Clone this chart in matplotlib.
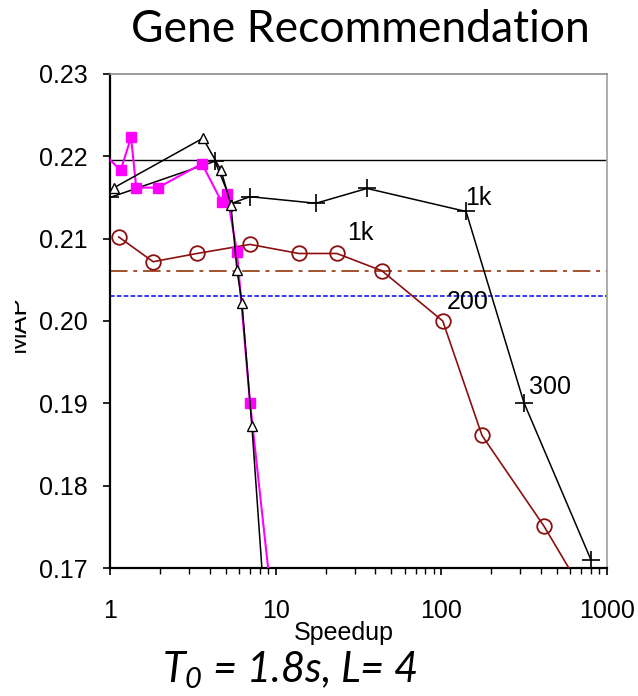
import matplotlib
matplotlib.use('Agg')
import matplotlib.pyplot as plt
from matplotlib.ticker import FixedLocator, FormatStrFormatter, LogLocator, NullFormatter
from matplotlib.patches import Rectangle

plt.rcParams['font.family'] = ['Liberation Sans', 'DejaVu Sans']
plt.rcParams['mathtext.fontset'] = 'custom'
plt.rcParams['mathtext.it'] = 'Lato:italic'
plt.rcParams['mathtext.rm'] = 'Lato:italic'

# --- data ---
plus_x = [1.0, 4.3, 5.45, 7.0, 17.5, 35.6, 141, 315, 800]
plus_y = [0.2150, 0.2194, 0.2143, 0.2151, 0.2143, 0.2161, 0.2133, 0.1901, 0.1710]

circle_x = [1.13, 1.82, 3.35, 7.0, 13.8, 23.4, 43.8, 102, 176, 416, 1000]
circle_y = [0.2102, 0.2072, 0.2082, 0.2093, 0.2082, 0.2082, 0.2061, 0.2000, 0.1861, 0.1751, 0.1622]

tri_x = [1.06, 3.64, 4.68, 5.37, 5.84, 6.26, 7.19, 10.0]
tri_y = [0.2162, 0.2222, 0.2183, 0.2141, 0.2062, 0.2022, 0.1872, 0.1462]

sq_x = [0.9, 1.16, 1.34, 1.44, 1.95, 3.59, 4.74, 5.08, 5.84, 7.0, 11.0]
sq_y = [0.2205, 0.2183, 0.2223, 0.2162, 0.2162, 0.2191, 0.2144, 0.2154, 0.2084, 0.1901, 0.1540]

ref_black = 0.2195
ref_brown = 0.2061
ref_blue = 0.2030

# point labels: (text, series x, series y)
plus_labels = [('1k', 141, 0.2133), ('300', 315, 0.1901)]
circle_labels = [('1k', 23.4, 0.2082), ('200', 102, 0.2000)]

fig = plt.figure(figsize=(6.38, 6.96), dpi=100)
ax = fig.add_axes([0.1724, 0.1839, 0.779, 0.7098])

ax.set_xscale('log')
ax.set_xlim(1, 1000)
ax.set_ylim(0.17, 0.23)

# reference lines
ax.axhline(ref_black, color='black', lw=1.0, zorder=2)
ax.axhline(ref_brown, color='#A0522D', lw=1.4, dashes=(9, 3, 2, 3), zorder=2)
ax.axhline(ref_blue, color='#0000FF', lw=1.1, dashes=(3, 1.5), zorder=2)

# series
ax.plot(circle_x, circle_y, color='#8B1010', lw=1.2, marker='o', ms=10.5,
        mfc='none', mec='#8B1010', mew=1.3, zorder=3)
ax.plot(plus_x, plus_y, color='black', lw=1.1, marker='+', ms=13, mew=1.2, zorder=4)
ax.plot(sq_x, sq_y, color='#FF00FF', lw=1.5, marker='s', ms=6.5, mec='#FF00FF', zorder=5)
ax.plot(tri_x, tri_y, color='black', lw=1.1, marker='^', ms=7, mfc='white',
        mec='black', mew=1.0, zorder=6)

label_offsets = {('1k', 141): (12, 13), ('300', 315): (26, 16),
                 ('1k', 23.4): (23, 20), ('200', 102): (25, 19)}
for txt, x, y in plus_labels + circle_labels:
    ax.annotate(txt, (x, y), xytext=label_offsets[(txt, x)], textcoords='offset pixels',
                ha='center', va='center', fontsize=18, zorder=10)

# axes styling
for side in ['left', 'bottom']:
    ax.spines[side].set_color('black')
    ax.spines[side].set_linewidth(1.6)
ax.spines['top'].set_color('#8c8c8c')
ax.spines['right'].set_color('#a0a0a0')
ax.spines['top'].set_linewidth(1.2)
ax.spines['right'].set_linewidth(1.2)

ax.yaxis.set_major_locator(FixedLocator([0.17, 0.18, 0.19, 0.20, 0.21, 0.22, 0.23]))
ax.yaxis.set_major_formatter(FormatStrFormatter('%.2f'))
ax.xaxis.set_major_locator(FixedLocator([1, 10, 100, 1000]))
ax.xaxis.set_major_formatter(FormatStrFormatter('%g'))
ax.xaxis.set_minor_locator(LogLocator(base=10, subs=range(2, 10)))
ax.xaxis.set_minor_formatter(NullFormatter())

ax.tick_params(axis='y', which='major', direction='out', length=5, width=1.2,
               labelsize=18, pad=11)
ax.tick_params(axis='x', which='major', direction='out', length=5, width=1.2,
               labelsize=18, pad=17)
ax.tick_params(axis='x', which='minor', direction='out', length=4, width=1.0)
ax.tick_params(right=False, top=False)

ax.set_xlabel('Speedup', fontsize=18)
ax.xaxis.set_label_coords(0.471, -0.108)

# y label, partly cut off as in the source
ylab = fig.text(18 / 638, 1 - 324 / 696, 'MAP', rotation=90, fontsize=19,
                ha='center', va='center')
ylab.set_clip_path(Rectangle((15, 0), 40, 696, transform=None))

fig.text(0.565, 1 - 30 / 696, 'Gene Recommendation', fontsize=32,
         family='Lato', ha='center', va='center')
fig.text(0.455, 1 - 682 / 696, r'$T_0$ = 1.8s, L= 4', fontsize=30,
         family='Lato', style='italic', ha='center', va='baseline')

fig.savefig('out.png', dpi=100, facecolor='white')
